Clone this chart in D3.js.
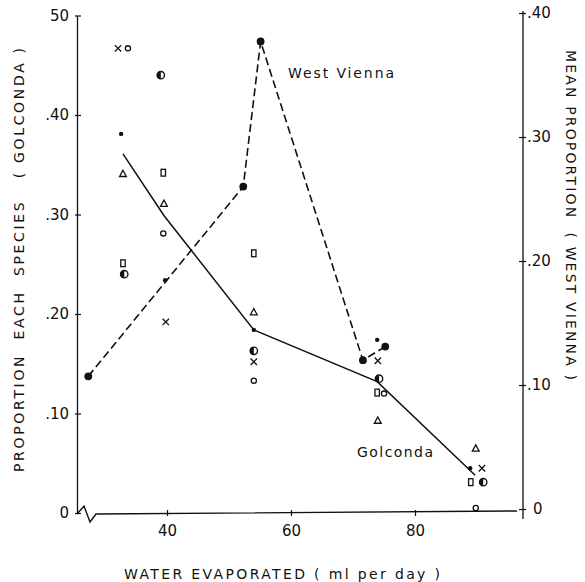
<!DOCTYPE html>
<html>
<head>
<meta charset="utf-8">
<script src="https://cdn.jsdelivr.net/npm/d3@7"></script>
<style>
  body { margin: 0; background: #fff; }
  svg text { font-family: "DejaVu Sans", sans-serif; fill: #111; }
</style>
</head>
<body>
<svg id="chart" width="585" height="582"></svg>
<script>
// Golconda: proportion of each species (one array pair per symbol)
const crossX = [32.1, 39.8, 54.0, 74.0, 90.8];
const crossY = [0.467, 0.192, 0.152, 0.153, 0.045];
const openX  = [33.7, 39.4, 54.0, 75.0, 89.8];
const openY  = [0.467, 0.281, 0.133, 0.120, 0.005];
const halfX  = [33.1, 39.0, 54.0, 74.2, 91.0];
const halfY  = [0.240, 0.440, 0.163, 0.135, 0.031];
const dotX   = [32.6, 39.7, 54.0, 73.9, 88.9];
const dotY   = [0.381, 0.234, 0.184, 0.174, 0.045];
const triX   = [32.9, 39.5, 54.0, 74.0, 89.8];
const triY   = [0.341, 0.311, 0.202, 0.093, 0.065];
const sqX    = [32.9, 39.4, 54.0, 73.9, 89.0];
const sqY    = [0.251, 0.342, 0.261, 0.121, 0.031];

// Golconda mean line (left axis)
const golMeanX = [32.9, 39.5, 54.0, 73.9, 89.7];
const golMeanY = [0.361, 0.299, 0.184, 0.132, 0.038];

// West Vienna mean proportion (right axis)
const wvX = [27.3, 52.3, 55.1, 71.6, 75.2];
const wvY = [0.107, 0.260, 0.377, 0.120, 0.131];

const xTicks = [40, 60, 80];
const leftTicks = [0, 0.1, 0.2, 0.3, 0.4, 0.5];
const leftTickLabels = ["0", ".10", ".20", ".30", ".40", "50"];
const rightTicks = [0, 0.1, 0.2, 0.3, 0.4];
const rightTickLabels = ["0", ".10", ".20", ".30", ".40"];

const svg = d3.select("#chart");
const ink = "#111";

const x = d3.scaleLinear().domain([40, 80]).range([167, 415]);
const yL = d3.scaleLinear().domain([0, 0.5]).range([513, 15.5]);
const yR = d3.scaleLinear().domain([0, 0.4]).range([509, 13]);

const leftX = 77, rightX = 523, xEnd = 517;

// left axis
const gL = svg.append("g")
  .attr("transform", "translate(" + leftX + ",0)")
  .call(d3.axisLeft(yL).tickValues(leftTicks)
    .tickFormat((d, i) => leftTickLabels[i])
    .tickSizeInner(0).tickSizeOuter(0).tickPadding(8));
gL.selectAll(".tick line").attr("x1", -2).attr("x2", 4);

// right axis
const gR = svg.append("g")
  .attr("transform", "translate(" + rightX + ",0)")
  .call(d3.axisRight(yR).tickValues(rightTicks)
    .tickFormat((d, i) => rightTickLabels[i])
    .tickSizeInner(0).tickSizeOuter(0).tickPadding(4));
gR.select(".domain").remove();
gR.append("line")
  .attr("y1", yR(0.4) - 2).attr("y2", yR(0) + 10)
  .attr("stroke", ink).attr("stroke-width", 1.3);
gR.selectAll(".tick line").attr("x1", -4).attr("x2", 3);
gR.selectAll(".tick text").filter(d => d === 0).attr("x", 10);

// bottom axis
const gB = svg.append("g")
  .attr("transform", "translate(0," + yL(0) + ")")
  .call(d3.axisBottom(x).tickValues(xTicks)
    .tickSizeInner(0).tickSizeOuter(0).tickPadding(12));
gB.select(".domain").remove();
gB.selectAll(".tick line").attr("y1", -3).attr("y2", 3);
// axis line with break mark near the origin
gB.append("path")
  .attr("d", "M" + leftX + ",1 L" + (leftX + 7) + ",-7 L" + (leftX + 13) + ",9 L" + (leftX + 19) + ",1 L" + xEnd + ",-2")
  .attr("fill", "none").attr("stroke", ink).attr("stroke-width", 1.4);

svg.selectAll(".domain").attr("stroke", ink).attr("stroke-width", 1.3);
svg.selectAll(".tick line").attr("stroke", ink).attr("stroke-width", 1.2);
svg.selectAll(".tick text").style("font-size", "15px").attr("fill", ink);

// mean lines
const line = d3.line();
const golPts = golMeanX.map((v, i) => [x(v), yL(golMeanY[i])]);
svg.append("path").attr("d", line(golPts))
  .attr("fill", "none").attr("stroke", ink).attr("stroke-width", 1.5);

const wvPts = wvX.map((v, i) => [x(v), yR(wvY[i])]);
svg.append("path").attr("d", line(wvPts))
  .attr("fill", "none").attr("stroke", ink).attr("stroke-width", 1.6)
  .attr("stroke-dasharray", "8,4");
svg.selectAll(".wv").data(wvPts).enter().append("circle")
  .attr("cx", d => d[0]).attr("cy", d => d[1]).attr("r", 3.9).attr("fill", ink);

// species symbols
function pts(xs, ys) { return xs.map((v, i) => [x(v), yL(ys[i])]); }

svg.selectAll(".cross").data(pts(crossX, crossY)).enter().append("path")
  .attr("d", d => "M" + (d[0] - 3.2) + "," + (d[1] - 3.2) + "L" + (d[0] + 3.2) + "," + (d[1] + 3.2) +
                  "M" + (d[0] - 3.2) + "," + (d[1] + 3.2) + "L" + (d[0] + 3.2) + "," + (d[1] - 3.2))
  .attr("stroke", ink).attr("stroke-width", 1.3);

svg.selectAll(".open").data(pts(openX, openY)).enter().append("circle")
  .attr("cx", d => d[0]).attr("cy", d => d[1]).attr("r", 2.6)
  .attr("fill", "#fff").attr("stroke", ink).attr("stroke-width", 1.3);

const half = svg.selectAll(".half").data(pts(halfX, halfY)).enter().append("g");
half.append("circle")
  .attr("cx", d => d[0]).attr("cy", d => d[1]).attr("r", 3.7)
  .attr("fill", "#fff").attr("stroke", ink).attr("stroke-width", 1.4);
half.append("path")
  .attr("d", d => "M" + d[0] + "," + (d[1] - 3.7) + "A3.7,3.7 0 0,0 " + d[0] + "," + (d[1] + 3.7) + "Z")
  .attr("fill", ink);

svg.selectAll(".dot").data(pts(dotX, dotY)).enter().append("circle")
  .attr("cx", d => d[0]).attr("cy", d => d[1]).attr("r", 2.2).attr("fill", ink);

svg.selectAll(".tri").data(pts(triX, triY)).enter().append("path")
  .attr("d", d => "M" + d[0] + "," + (d[1] - 3.5) + "L" + (d[0] + 3.4) + "," + (d[1] + 2.8) + "L" + (d[0] - 3.4) + "," + (d[1] + 2.8) + "Z")
  .attr("fill", "#fff").attr("stroke", ink).attr("stroke-width", 1.3);

svg.selectAll(".sq").data(pts(sqX, sqY)).enter().append("rect")
  .attr("x", d => d[0] - 2.2).attr("y", d => d[1] - 3.4).attr("width", 4.4).attr("height", 6.8)
  .attr("fill", "#fff").attr("stroke", ink).attr("stroke-width", 1.3);

// series labels
svg.append("text").attr("x", 288).attr("y", 78)
  .attr("textLength", 106).attr("lengthAdjust", "spacing")
  .style("font-size", "14px").text("West Vienna");
svg.append("text").attr("x", 357).attr("y", 457)
  .attr("textLength", 76).attr("lengthAdjust", "spacing")
  .style("font-size", "14px").text("Golconda");

// axis titles
svg.append("text")
  .attr("transform", "translate(24,260) rotate(-90)")
  .attr("text-anchor", "middle").attr("textLength", 424).attr("lengthAdjust", "spacing")
  .style("font-size", "14px").style("white-space", "pre")
  .text("PROPORTION  EACH  SPECIES   ( GOLCONDA )");
svg.append("text")
  .attr("transform", "translate(566,215) rotate(90)")
  .attr("text-anchor", "middle").attr("textLength", 330).attr("lengthAdjust", "spacing")
  .style("font-size", "14px").style("white-space", "pre")
  .text("MEAN PROPORTION  ( WEST VIENNA )");
svg.append("text")
  .attr("x", 282).attr("y", 579)
  .attr("text-anchor", "middle").attr("textLength", 316).attr("lengthAdjust", "spacing")
  .style("font-size", "14px").style("white-space", "pre")
  .text("WATER EVAPORATED ( ml per day )");
</script>
</body>
</html>
